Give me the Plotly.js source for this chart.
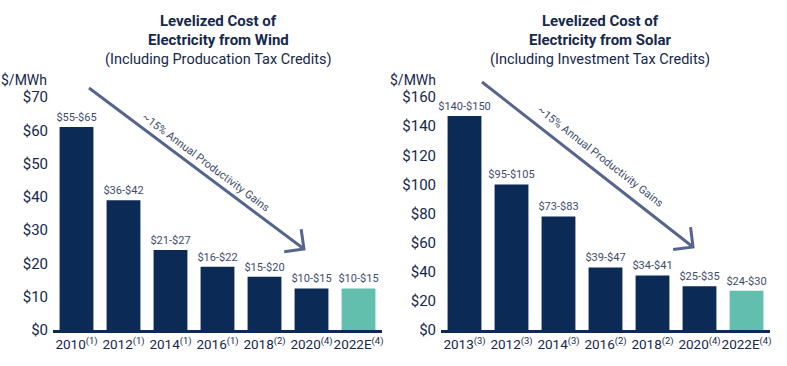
<!DOCTYPE html>
<html><head><meta charset="utf-8">
<script src="https://cdn.plot.ly/plotly-3.0.1.min.js"></script>
<style>html,body{margin:0;padding:0;background:#fff}#c{width:787px;height:366px}</style>
</head><body><div id="c"></div>
<script>
// Wind chart data
const windCats = ['2010<sup>(1)</sup>','2012<sup>(1)</sup>','2014<sup>(1)</sup>','2016<sup>(1)</sup>','2018<sup>(2)</sup>','2020<sup>(4)</sup>','2022E<sup>(4)</sup>'];
const windValues = [61, 39, 24, 19, 16, 12.5, 12.5];
const windLabels = ['$55-$65','$36-$42','$21-$27','$16-$22','$15-$20','$10-$15','$10-$15'];
// Solar chart data
const solarCats = ['2013<sup>(3)</sup>','2012<sup>(3)</sup>','2014<sup>(3)</sup>','2016<sup>(2)</sup>','2018<sup>(2)</sup>','2020<sup>(4)</sup>','2022E<sup>(4)</sup>'];
const solarValues = [147, 100, 78, 43, 37.5, 30, 27];
const solarLabels = ['$140-$150','$95-$105','$73-$83','$39-$47','$34-$41','$25-$35','$24-$30'];

const NAVY = '#0b2a55', TEAL = '#62bfae', SLATE = '#56658d', TXT = '#16284c', LBL = '#3e4c6c';
const FONT = 'Roboto, "Liberation Sans", sans-serif';
const W = 787, H = 366;
const px = x => x / W, py = y => 1 - y / H;
const colors = n => Array.from({length: n}, (_, i) => i === n - 1 ? TEAL : NAVY);

function bar(cats, vals, labels, xa, ya) {
  return {type: 'bar', x: cats, y: vals, text: labels, textposition: 'outside',
    cliponaxis: false, constraintext: 'none', marker: {color: colors(vals.length)},
    outsidetextfont: {family: FONT, size: 11, color: LBL}, hoverinfo: 'none',
    xaxis: xa, yaxis: ya};
}
const data = [bar(windCats, windValues, windLabels, 'x', 'y'),
              bar(solarCats, solarValues, solarLabels, 'x2', 'y2')];

const yDom = [py(330), py(97)];
function xaxis(l, r, anchor) {
  return {domain: [px(l), px(r)], anchor, type: 'category', showline: true, linewidth: 3,
    linecolor: NAVY, ticks: '', showgrid: false, zeroline: false, tickangle: 0,
    tickfont: {family: FONT, size: 13.5, color: TXT}, fixedrange: true};
}
function yaxis(max, anchor) {
  return {domain: yDom, anchor, range: [0, max], dtick: max === 70 ? 10 : 20, tickprefix: '$',
    showgrid: false, zeroline: false, showline: false, ticks: '',
    tickfont: {family: FONT, size: 15, color: TXT}, fixedrange: true, ticklabelstandoff: 4};
}

const ann = [];
const shapes = [];
function titles(cx, l2, l3, yx) {
  ann.push({xref: 'paper', yref: 'paper', x: px(cx), y: py(21), text: '<b>Levelized Cost of</b>', showarrow: false,
    font: {family: FONT, size: 15, color: TXT}, xanchor: 'center', yanchor: 'middle'});
  ann.push({xref: 'paper', yref: 'paper', x: px(cx), y: py(40), text: '<b>' + l2 + '</b>', showarrow: false,
    font: {family: FONT, size: 15, color: TXT}, xanchor: 'center', yanchor: 'middle'});
  ann.push({xref: 'paper', yref: 'paper', x: px(cx), y: py(60), text: l3, showarrow: false,
    font: {family: FONT, size: 14.5, color: TXT}, xanchor: 'center', yanchor: 'middle'});
  ann.push({xref: 'paper', yref: 'paper', x: px(yx), y: py(80), text: '$/MWh', showarrow: false,
    font: {family: FONT, size: 14, color: TXT}, xanchor: 'right', yanchor: 'middle'});
}
titles(218, 'Electricity from Wind', '(Including Producation Tax Credits)', 49);
titles(600, 'Electricity from Solar', '(Including Investment Tax Credits)', 438);

function arrow(x0, y0, x1, y1, tx, ty) {
  const dx = x1 - x0, dy = y1 - y0, L = Math.hypot(dx, dy);
  const ux = -dx / L, uy = -dy / L, a = 20, c = Math.SQRT1_2;
  const a1 = [x1 + a * (c * ux - c * uy), y1 + a * (c * ux + c * uy)];
  const a2 = [x1 + a * (c * ux + c * uy), y1 + a * (-c * ux + c * uy)];
  shapes.push({type: 'line', xref: 'paper', yref: 'paper', x0: px(x0), y0: py(y0), x1: px(x1), y1: py(y1),
    line: {color: SLATE, width: 3}});
  shapes.push({type: 'path', xref: 'paper', yref: 'paper',
    path: `M${px(a1[0])},${py(a1[1])} L${px(x1)},${py(y1)} L${px(a2[0])},${py(a2[1])}`,
    line: {color: SLATE, width: 3}});
  const ang = Math.atan2(dy, dx) * 180 / Math.PI;
  ann.push({xref: 'paper', yref: 'paper', x: px(tx), y: py(ty), text: '~15% Annual Productivity Gains',
    showarrow: false, textangle: ang, font: {family: FONT, size: 11, color: LBL},
    xanchor: 'center', yanchor: 'middle'});
}
arrow(89, 88, 304, 249, 206, 162);
arrow(482, 82, 693, 247, 600, 157);

const layout = {width: W, height: H, margin: {l: 0, r: 0, t: 0, b: 0}, showlegend: false,
  paper_bgcolor: '#fff', plot_bgcolor: '#fff', bargap: 0.28,
  xaxis: xaxis(53, 382, 'y'), yaxis: yaxis(70, 'x'),
  xaxis2: xaxis(441, 770, 'y2'), yaxis2: yaxis(160, 'x2'),
  annotations: ann, shapes};
Plotly.newPlot('c', data, layout, {staticPlot: true});
</script></body></html>
